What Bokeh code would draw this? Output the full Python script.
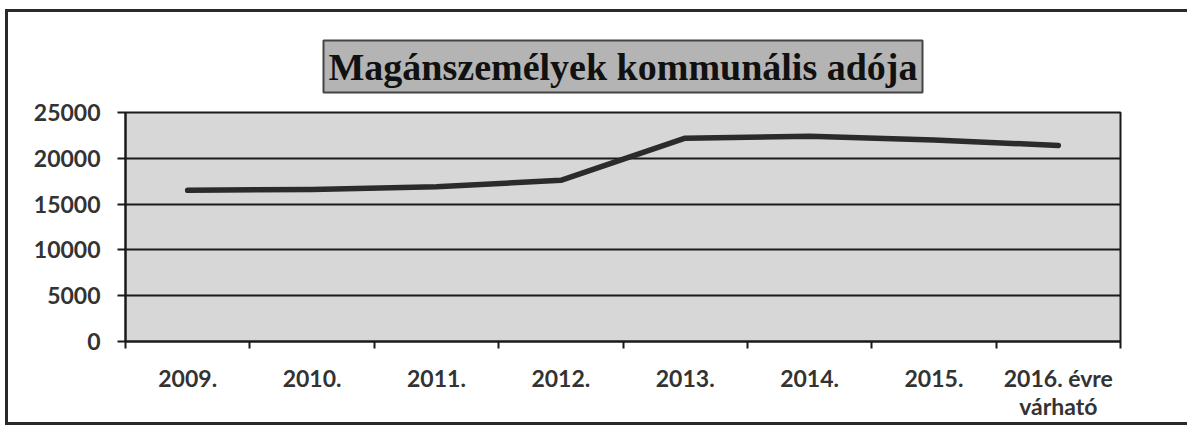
from bokeh.plotting import figure
from bokeh.models import Range1d, FixedTicker, SingleIntervalTicker, ColumnDataSource
from bokeh.embed import file_html
from bokeh.resources import INLINE

# ---- data ----
categories = ["2009.", "2010.", "2011.", "2012.", "2013.", "2014.", "2015.", "2016. évre\nvárható"]
values = [16500, 16600, 16900, 17600, 22200, 22400, 22000, 21400]
title_text = "Magánszemélyek kommunális adója"

n = len(categories)
xs = [i + 0.5 for i in range(n)]
y_max = 25000

W, H = 1182, 416
frame_left, frame_top, frame_right, frame_bottom = 117, 100, 1112, 329

p = figure(width=W, height=H, output_backend="svg", toolbar_location=None,
           x_range=Range1d(0, n), y_range=Range1d(0, y_max),
           min_border_left=frame_left, min_border_right=W - frame_right,
           min_border_top=frame_top, min_border_bottom=H - frame_bottom)

p.background_fill_color = "#d7d7d7"
p.border_fill_color = "white"
p.outline_line_color = "#1a1a1a"
p.outline_line_width = 2
p.styles = {"border-left": "3px solid #2a2a2a", "border-top": "3px solid #2a2a2a",
            "border-bottom": "3px solid #2a2a2a", "margin-left": "5px", "margin-top": "9px"}

# title
p.title.text = title_text
p.title.align = "center"
p.title.text_font = "Liberation Serif"
p.title.text_font_style = "bold"
p.title.text_font_size = "38px"
p.title.text_color = "#111111"
p.title.background_fill_color = "#b4b4b4"
p.title.border_line_color = "#444444"
p.title.border_line_width = 2
p.title.padding = 5
p.title.standoff = 40

src = ColumnDataSource(dict(x=xs, y=values))
p.line("x", "y", source=src, line_color="#2b2b2b", line_width=5.5, line_cap="round", line_join="round")

# x axis
xa = p.xaxis[0]
xa.ticker = FixedTicker(ticks=xs, minor_ticks=list(range(n + 1)))
xa.major_label_overrides = {x: c for x, c in zip(xs, categories)}
xa.major_tick_out = 0
xa.major_tick_in = 0
xa.minor_tick_out = 7
xa.minor_tick_in = 0
xa.minor_tick_line_color = "#1a1a1a"
xa.minor_tick_line_width = 2
xa.axis_line_color = "#1a1a1a"
xa.axis_line_width = 2
xa.major_label_standoff = 15
xa.major_label_text_font = "Lato"
xa.major_label_text_font_style = "bold"
xa.major_label_text_font_size = "23px"
xa.major_label_text_color = "#333333"
xa.major_label_text_line_height = 1.0

ya = p.yaxis[0]
ya.ticker = SingleIntervalTicker(interval=5000)
ya.minor_tick_line_color = None
ya.major_tick_out = 8
ya.major_tick_in = 0
ya.major_tick_line_color = "#1a1a1a"
ya.major_tick_line_width = 2
ya.axis_line_color = "#1a1a1a"
ya.axis_line_width = 2
ya.major_label_standoff = 17
ya.major_label_text_font = "Lato"
ya.major_label_text_font_style = "bold"
ya.major_label_text_font_size = "23px"
ya.major_label_text_color = "#333333"

p.xgrid.grid_line_color = None
p.ygrid.grid_line_color = "#1a1a1a"
p.ygrid.grid_line_width = 2

open("out.html", "w").write(file_html(p, INLINE))
